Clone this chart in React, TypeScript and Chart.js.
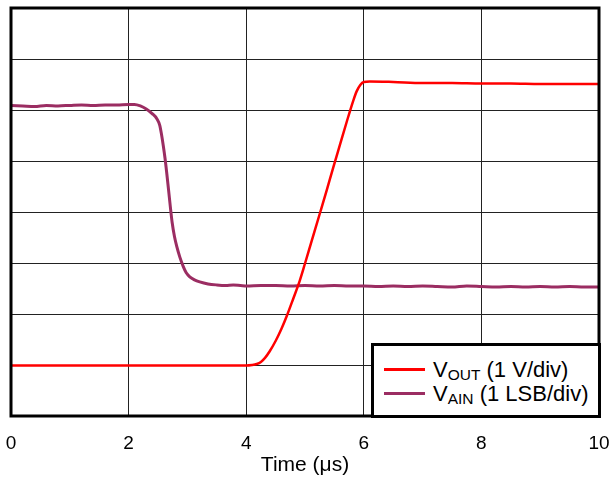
import React, { useEffect, useRef } from 'react';
import { Chart, registerables } from 'chart.js';

Chart.register(...registerables);

// Time axis (µs)
const xTickValues = [0, 2, 4, 6, 8, 10];

// VOUT (1 V/div) — values in divisions
const voutTime = [0, 0.5, 1, 1.5, 2, 2.5, 3, 3.5, 3.8, 4.0, 4.1, 4.18, 4.25, 4.32, 4.4, 4.5, 4.6, 4.69, 4.8, 4.91, 5.0, 5.1, 5.26, 5.37, 5.48, 5.6, 5.71, 5.82, 5.88, 5.94, 6.0, 6.1, 6.5, 7.0, 7.5, 8.0, 8.5, 9.0, 9.5, 10];
const voutValue = [0.99, 0.99, 0.99, 0.99, 0.99, 0.99, 0.99, 0.99, 0.99, 0.99, 1.0, 1.02, 1.06, 1.14, 1.27, 1.47, 1.71, 1.96, 2.3, 2.65, 2.99, 3.38, 4.0, 4.43, 4.87, 5.34, 5.77, 6.18, 6.37, 6.49, 6.55, 6.56, 6.55, 6.53, 6.53, 6.52, 6.52, 6.51, 6.51, 6.51];

// VAIN (1 LSB/div) — values in divisions
const vainTime = [0, 0.2, 0.4, 0.6, 0.8, 1.0, 1.2, 1.4, 1.6, 1.8, 2.0, 2.1, 2.2, 2.3, 2.4, 2.48, 2.53, 2.56, 2.59, 2.62, 2.65, 2.68, 2.71, 2.74, 2.78, 2.82, 2.87, 2.93, 2.98, 3.04, 3.12, 3.21, 3.35, 3.5, 3.65, 3.78, 3.9, 4.01, 4.25, 4.5, 4.75, 5.0, 5.25, 5.5, 5.75, 6.0, 6.25, 6.5, 6.75, 7.0, 7.25, 7.5, 7.75, 8.0, 8.25, 8.5, 8.75, 9.0, 9.25, 9.5, 9.75, 10];
const vainValue = [6.09, 6.08, 6.07, 6.09, 6.08, 6.09, 6.1, 6.09, 6.1, 6.1, 6.11, 6.11, 6.08, 6.02, 5.93, 5.83, 5.7, 5.52, 5.3, 5.05, 4.75, 4.43, 4.1, 3.8, 3.52, 3.32, 3.12, 2.93, 2.81, 2.73, 2.67, 2.63, 2.59, 2.57, 2.56, 2.57, 2.56, 2.55, 2.56, 2.56, 2.55, 2.56, 2.55, 2.56, 2.55, 2.55, 2.54, 2.55, 2.54, 2.55, 2.54, 2.53, 2.55, 2.54, 2.53, 2.54, 2.53, 2.54, 2.53, 2.54, 2.53, 2.53];

const RED = '#ff0000';
const PURPLE = '#9b2d62';
const FONT = 'Liberation Sans, Arial, sans-serif';

const framePlugin = {
  id: 'frame',
  afterDraw(chart: any) {
    const { ctx, chartArea } = chart;
    const { left, top, right, bottom } = chartArea;
    ctx.save();
    ctx.strokeStyle = '#000';
    ctx.lineWidth = 3;
    ctx.strokeRect(left, top, right - left, bottom - top);
    ctx.restore();
  },
};

export default function App() {
  const ref = useRef<HTMLCanvasElement | null>(null);

  useEffect(() => {
    if (!ref.current) return;
    const toPts = (xs: number[], ys: number[]) => xs.map((x, i) => ({ x, y: ys[i] }));
    const chart = new Chart(ref.current, {
      type: 'line',
      data: {
        datasets: [
          {
            label: 'VOUT (1 V/div)',
            data: toPts(voutTime, voutValue),
            borderColor: RED,
            borderWidth: 2.5,
            pointRadius: 0,
            cubicInterpolationMode: 'monotone',
            fill: false,
          },
          {
            label: 'VAIN (1 LSB/div)',
            data: toPts(vainTime, vainValue),
            borderColor: PURPLE,
            borderWidth: 3,
            pointRadius: 0,
            cubicInterpolationMode: 'monotone',
            fill: false,
          },
        ],
      },
      options: {
        animation: false,
        responsive: false,
        maintainAspectRatio: false,
        layout: { padding: { left: 11, top: 8, right: 14, bottom: 0 } },
        plugins: { legend: { display: false }, tooltip: { enabled: false } },
        scales: {
          x: {
            type: 'linear',
            min: 0,
            max: 10,
            afterBuildTicks: (scale: any) => {
              scale.ticks = xTickValues.map((v) => ({ value: v }));
            },
            afterFit: (scale: any) => {
              scale.height = 65;
            },
            ticks: {
              color: '#000',
              padding: 2,
              maxRotation: 0,
              font: { family: FONT, size: 19 },
            },
            grid: {
              color: '#222',
              lineWidth: 1,
              drawTicks: true,
              tickLength: 14,
              tickColor: 'rgba(0,0,0,0)',
            },
            border: { display: false },
            title: {
              display: true,
              text: 'Time (μs)',
              color: '#000',
              font: { family: FONT, size: 21 },
              padding: { top: 0, bottom: 3 },
            },
          },
          y: {
            type: 'linear',
            min: 0,
            max: 8,
            ticks: { stepSize: 1, display: false },
            afterFit: (scale: any) => {
              scale.width = 0;
            },
            grid: { color: '#222', lineWidth: 1, drawTicks: false },
            border: { display: false },
          },
        },
      },
      plugins: [framePlugin],
    });
    return () => chart.destroy();
  }, []);

  const row = (color: string, sub: string, rest: string, top: number) => (
    <div style={{ position: 'absolute', left: 0, top, height: 24, width: '100%' }}>
      <div style={{ position: 'absolute', left: 10, top: 10, width: 41, height: 3, background: color }} />
      <div style={{ position: 'absolute', left: 59, top: 0, whiteSpace: 'nowrap', fontSize: 22, lineHeight: '24px', color: '#000' }}>
        V<span style={{ fontSize: 15.5, position: 'relative', top: 3 }}>{sub}</span> {rest}
      </div>
    </div>
  );

  return (
    <div style={{ position: 'absolute', left: 0, top: 0, width: 613, height: 481, background: '#fff', fontFamily: FONT }}>
      <canvas ref={ref} width={613} height={481} style={{ display: 'block' }} />
      <div
        style={{
          position: 'absolute',
          left: 371,
          top: 343,
          width: 230,
          height: 75,
          boxSizing: 'border-box',
          border: '3px solid #000',
          background: '#fff',
        }}
      >
        {row(RED, 'OUT', '(1 V/div)', 12)}
        {row(PURPLE, 'AIN', '(1 LSB/div)', 36)}
      </div>
    </div>
  );
}
